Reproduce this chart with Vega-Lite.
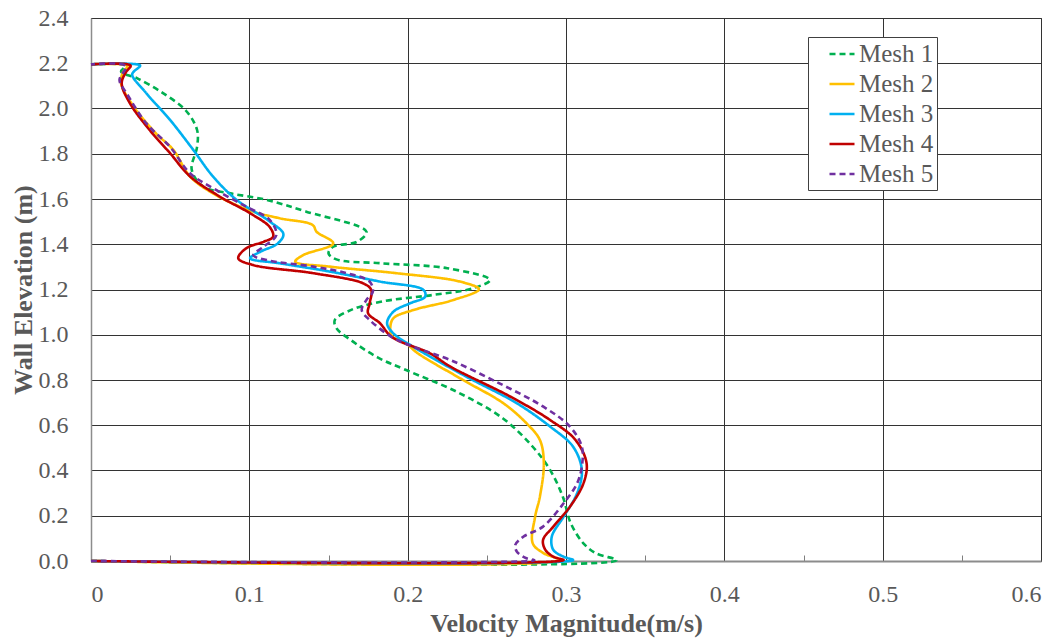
{
  "$schema": "https://vega.github.io/schema/vega-lite/v6.json",
  "width": 950,
  "height": 543,
  "autosize": {"type": "none"},
  "padding": {"left": 91, "top": 18, "right": 21, "bottom": 80},
  "background": "white",
  "config": {
    "view": {"stroke": "#404040", "strokeWidth": 1},
    "font": "Times New Roman, Liberation Serif, DejaVu Serif, serif"
  },
  "data": {"values": [
    {"m":"Mesh 1","v":0,"e":0},{"m":"Mesh 1","v":0.332,"e":0.003},{"m":"Mesh 1","v":0.319,"e":0.034},{"m":"Mesh 1","v":0.311,"e":0.078},{"m":"Mesh 1","v":0.303,"e":0.167},{"m":"Mesh 1","v":0.298,"e":0.284},{"m":"Mesh 1","v":0.290,"e":0.402},{"m":"Mesh 1","v":0.279,"e":0.505},{"m":"Mesh 1","v":0.260,"e":0.631},{"m":"Mesh 1","v":0.231,"e":0.748},{"m":"Mesh 1","v":0.199,"e":0.844},{"m":"Mesh 1","v":0.181,"e":0.90},{"m":"Mesh 1","v":0.164,"e":0.977},{"m":"Mesh 1","v":0.155,"e":1.029},{"m":"Mesh 1","v":0.154,"e":1.065},{"m":"Mesh 1","v":0.164,"e":1.109},{"m":"Mesh 1","v":0.183,"e":1.146},{"m":"Mesh 1","v":0.216,"e":1.176},{"m":"Mesh 1","v":0.241,"e":1.205},{"m":"Mesh 1","v":0.252,"e":1.242},{"m":"Mesh 1","v":0.225,"e":1.294},{"m":"Mesh 1","v":0.183,"e":1.316},{"m":"Mesh 1","v":0.155,"e":1.333},{"m":"Mesh 1","v":0.150,"e":1.36},{"m":"Mesh 1","v":0.153,"e":1.389},{"m":"Mesh 1","v":0.168,"e":1.411},{"m":"Mesh 1","v":0.174,"e":1.455},{"m":"Mesh 1","v":0.136,"e":1.544},{"m":"Mesh 1","v":0.111,"e":1.596},{"m":"Mesh 1","v":0.088,"e":1.625},{"m":"Mesh 1","v":0.071,"e":1.654},{"m":"Mesh 1","v":0.0636,"e":1.73},{"m":"Mesh 1","v":0.067,"e":1.83},{"m":"Mesh 1","v":0.067,"e":1.905},{"m":"Mesh 1","v":0.060,"e":1.99},{"m":"Mesh 1","v":0.045,"e":2.07},{"m":"Mesh 1","v":0.029,"e":2.134},{"m":"Mesh 1","v":0.019,"e":2.163},{"m":"Mesh 1","v":0.022,"e":2.19},{"m":"Mesh 1","v":0,"e":2.195},

    {"m":"Mesh 2","v":0,"e":0},{"m":"Mesh 2","v":0.296,"e":0.004},{"m":"Mesh 2","v":0.286,"e":0.034},{"m":"Mesh 2","v":0.279,"e":0.078},{"m":"Mesh 2","v":0.2805,"e":0.196},{"m":"Mesh 2","v":0.2835,"e":0.284},{"m":"Mesh 2","v":0.286,"e":0.432},{"m":"Mesh 2","v":0.2835,"e":0.535},{"m":"Mesh 2","v":0.275,"e":0.609},{"m":"Mesh 2","v":0.2605,"e":0.697},{"m":"Mesh 2","v":0.235,"e":0.80},{"m":"Mesh 2","v":0.206,"e":0.92},{"m":"Mesh 2","v":0.199,"e":0.962},{"m":"Mesh 2","v":0.19,"e":0.995},{"m":"Mesh 2","v":0.189,"e":1.029},{"m":"Mesh 2","v":0.191,"e":1.073},{"m":"Mesh 2","v":0.2035,"e":1.109},{"m":"Mesh 2","v":0.229,"e":1.154},{"m":"Mesh 2","v":0.245,"e":1.201},{"m":"Mesh 2","v":0.233,"e":1.235},{"m":"Mesh 2","v":0.193,"e":1.272},{"m":"Mesh 2","v":0.151,"e":1.301},{"m":"Mesh 2","v":0.129,"e":1.323},{"m":"Mesh 2","v":0.134,"e":1.352},{"m":"Mesh 2","v":0.153,"e":1.404},{"m":"Mesh 2","v":0.1425,"e":1.455},{"m":"Mesh 2","v":0.140,"e":1.485},{"m":"Mesh 2","v":0.119,"e":1.515},{"m":"Mesh 2","v":0.100,"e":1.55},{"m":"Mesh 2","v":0.077,"e":1.625},{"m":"Mesh 2","v":0.0625,"e":1.70},{"m":"Mesh 2","v":0.052,"e":1.817},{"m":"Mesh 2","v":0.041,"e":1.89},{"m":"Mesh 2","v":0.027,"e":2.008},{"m":"Mesh 2","v":0.019,"e":2.111},{"m":"Mesh 2","v":0.020,"e":2.157},{"m":"Mesh 2","v":0.023,"e":2.188},{"m":"Mesh 2","v":0,"e":2.195},

    {"m":"Mesh 3","v":0,"e":0},{"m":"Mesh 3","v":0.3045,"e":0.004},{"m":"Mesh 3","v":0.2985,"e":0.019},{"m":"Mesh 3","v":0.292,"e":0.049},{"m":"Mesh 3","v":0.291,"e":0.107},{"m":"Mesh 3","v":0.2985,"e":0.196},{"m":"Mesh 3","v":0.307,"e":0.299},{"m":"Mesh 3","v":0.31,"e":0.402},{"m":"Mesh 3","v":0.3045,"e":0.505},{"m":"Mesh 3","v":0.29,"e":0.594},{"m":"Mesh 3","v":0.269,"e":0.697},{"m":"Mesh 3","v":0.237,"e":0.815},{"m":"Mesh 3","v":0.2035,"e":0.947},{"m":"Mesh 3","v":0.191,"e":1.006},{"m":"Mesh 3","v":0.187,"e":1.051},{"m":"Mesh 3","v":0.191,"e":1.102},{"m":"Mesh 3","v":0.2015,"e":1.139},{"m":"Mesh 3","v":0.211,"e":1.168},{"m":"Mesh 3","v":0.21,"e":1.198},{"m":"Mesh 3","v":0.1825,"e":1.235},{"m":"Mesh 3","v":0.151,"e":1.279},{"m":"Mesh 3","v":0.119,"e":1.316},{"m":"Mesh 3","v":0.1005,"e":1.338},{"m":"Mesh 3","v":0.107,"e":1.367},{"m":"Mesh 3","v":0.118,"e":1.404},{"m":"Mesh 3","v":0.1215,"e":1.445},{"m":"Mesh 3","v":0.113,"e":1.50},{"m":"Mesh 3","v":0.092,"e":1.596},{"m":"Mesh 3","v":0.077,"e":1.70},{"m":"Mesh 3","v":0.0646,"e":1.817},{"m":"Mesh 3","v":0.050,"e":1.949},{"m":"Mesh 3","v":0.035,"e":2.067},{"m":"Mesh 3","v":0.026,"e":2.148},{"m":"Mesh 3","v":0.027,"e":2.163},{"m":"Mesh 3","v":0.031,"e":2.19},{"m":"Mesh 3","v":0,"e":2.195},

    {"m":"Mesh 4","v":0,"e":0},{"m":"Mesh 4","v":0.2985,"e":0.004},{"m":"Mesh 4","v":0.292,"e":0.019},{"m":"Mesh 4","v":0.287,"e":0.049},{"m":"Mesh 4","v":0.2855,"e":0.093},{"m":"Mesh 4","v":0.292,"e":0.152},{"m":"Mesh 4","v":0.3025,"e":0.24},{"m":"Mesh 4","v":0.311,"e":0.343},{"m":"Mesh 4","v":0.313,"e":0.432},{"m":"Mesh 4","v":0.306,"e":0.535},{"m":"Mesh 4","v":0.29,"e":0.623},{"m":"Mesh 4","v":0.265,"e":0.726},{"m":"Mesh 4","v":0.227,"e":0.859},{"m":"Mesh 4","v":0.214,"e":0.918},{"m":"Mesh 4","v":0.19,"e":0.99},{"m":"Mesh 4","v":0.1825,"e":1.051},{"m":"Mesh 4","v":0.175,"e":1.095},{"m":"Mesh 4","v":0.176,"e":1.139},{"m":"Mesh 4","v":0.177,"e":1.198},{"m":"Mesh 4","v":0.172,"e":1.227},{"m":"Mesh 4","v":0.1405,"e":1.272},{"m":"Mesh 4","v":0.1025,"e":1.308},{"m":"Mesh 4","v":0.093,"e":1.338},{"m":"Mesh 4","v":0.098,"e":1.382},{"m":"Mesh 4","v":0.109,"e":1.411},{"m":"Mesh 4","v":0.115,"e":1.433},{"m":"Mesh 4","v":0.113,"e":1.475},{"m":"Mesh 4","v":0.1005,"e":1.537},{"m":"Mesh 4","v":0.0815,"e":1.61},{"m":"Mesh 4","v":0.0625,"e":1.70},{"m":"Mesh 4","v":0.050,"e":1.802},{"m":"Mesh 4","v":0.037,"e":1.905},{"m":"Mesh 4","v":0.0246,"e":2.023},{"m":"Mesh 4","v":0.0194,"e":2.111},{"m":"Mesh 4","v":0.022,"e":2.16},{"m":"Mesh 4","v":0.025,"e":2.19},{"m":"Mesh 4","v":0,"e":2.195},

    {"m":"Mesh 5","v":0,"e":0},{"m":"Mesh 5","v":0.28,"e":0.003},{"m":"Mesh 5","v":0.275,"e":0.012},{"m":"Mesh 5","v":0.269,"e":0.041},{"m":"Mesh 5","v":0.268,"e":0.071},{"m":"Mesh 5","v":0.273,"e":0.107},{"m":"Mesh 5","v":0.2855,"e":0.152},{"m":"Mesh 5","v":0.2985,"e":0.255},{"m":"Mesh 5","v":0.307,"e":0.343},{"m":"Mesh 5","v":0.31,"e":0.417},{"m":"Mesh 5","v":0.31,"e":0.505},{"m":"Mesh 5","v":0.3025,"e":0.594},{"m":"Mesh 5","v":0.2857,"e":0.682},{"m":"Mesh 5","v":0.258,"e":0.785},{"m":"Mesh 5","v":0.227,"e":0.888},{"m":"Mesh 5","v":0.2035,"e":0.947},{"m":"Mesh 5","v":0.19,"e":0.99},{"m":"Mesh 5","v":0.176,"e":1.065},{"m":"Mesh 5","v":0.171,"e":1.109},{"m":"Mesh 5","v":0.174,"e":1.154},{"m":"Mesh 5","v":0.178,"e":1.19},{"m":"Mesh 5","v":0.176,"e":1.235},{"m":"Mesh 5","v":0.1615,"e":1.272},{"m":"Mesh 5","v":0.1405,"e":1.301},{"m":"Mesh 5","v":0.111,"e":1.33},{"m":"Mesh 5","v":0.1025,"e":1.352},{"m":"Mesh 5","v":0.109,"e":1.389},{"m":"Mesh 5","v":0.117,"e":1.44},{"m":"Mesh 5","v":0.113,"e":1.507},{"m":"Mesh 5","v":0.098,"e":1.566},{"m":"Mesh 5","v":0.079,"e":1.64},{"m":"Mesh 5","v":0.0625,"e":1.714},{"m":"Mesh 5","v":0.050,"e":1.83},{"m":"Mesh 5","v":0.035,"e":1.934},{"m":"Mesh 5","v":0.0225,"e":2.067},{"m":"Mesh 5","v":0.018,"e":2.126},{"m":"Mesh 5","v":0.022,"e":2.188},{"m":"Mesh 5","v":0,"e":2.195}
  ]},
  "mark": {"type": "line", "strokeWidth": 2.6, "clip": false, "interpolate": "catmull-rom"},
  "encoding": {
    "x": {
      "field": "v", "type": "quantitative",
      "scale": {"domain": [0, 0.6], "nice": false, "zero": false},
      "axis": {
        "title": "Velocity Magnitude(m/s)",
        "values": [0, 0.05, 0.1, 0.15, 0.2, 0.25, 0.3, 0.35, 0.4, 0.45, 0.5, 0.55, 0.6],
        "labelExpr": "round(datum.value*20)%2==0 ? format(datum.value, '.1~f') : ''",
        "grid": true,
        "gridColor": "#333333",
        "gridWidth": 1,
        "gridOpacity": {"condition": {"test": "round(datum.value*20)%2==1", "value": 0}, "value": 1},
        "ticks": true,
        "tickSize": -6,
        "tickColor": "#7f7f7f",
        "tickOpacity": {"condition": {"test": "round(datum.value*20)%2==1", "value": 1}, "value": 0},
        "domainColor": "#8c8c8c",
        "domainWidth": 2,
        "labelFont": "Times New Roman, Liberation Serif, DejaVu Serif, serif",
        "labelFontSize": 24,
        "labelColor": "#595959",
        "labelPadding": 27,
        "titleFont": "Times New Roman, Liberation Serif, DejaVu Serif, serif",
        "titleFontSize": 26,
        "titleFontWeight": "bold",
        "titleColor": "#595959",
        "titlePadding": 4
      }
    },
    "y": {
      "field": "e", "type": "quantitative",
      "scale": {"domain": [0, 2.4], "nice": false, "zero": false},
      "axis": {
        "title": "Wall Elevation (m)",
        "values": [0, 0.2, 0.4, 0.6, 0.8, 1.0, 1.2, 1.4, 1.6, 1.8, 2.0, 2.2, 2.4],
        "format": ".1f",
        "grid": true,
        "gridColor": "#333333",
        "gridWidth": 1,
        "ticks": false,
        "domainColor": "#8c8c8c",
        "domainWidth": 1.5,
        "labelFont": "Times New Roman, Liberation Serif, DejaVu Serif, serif",
        "labelFontSize": 24,
        "labelColor": "#595959",
        "labelPadding": 23,
        "titleFont": "Times New Roman, Liberation Serif, DejaVu Serif, serif",
        "titleFontSize": 26,
        "titleFontWeight": "bold",
        "titleColor": "#595959",
        "titlePadding": 2
      }
    },
    "order": {"field": "e", "type": "quantitative"},
    "color": {
      "field": "m", "type": "nominal",
      "scale": {"domain": ["Mesh 1", "Mesh 2", "Mesh 3", "Mesh 4", "Mesh 5"], "range": ["#00B050", "#FFC000", "#00B0F0", "#C00000", "#7030A0"]},
      "legend": {
        "title": null,
        "orient": "none",
        "legendX": 717,
        "legendY": 19,
        "padding": 3,
        "fillColor": "white",
        "strokeColor": "#404040",
        "symbolType": "stroke",
        "symbolStrokeWidth": 2.6,
        "symbolSize": 625,
        "symbolOffset": 17,
        "labelFont": "Times New Roman, Liberation Serif, DejaVu Serif, serif",
        "labelFontSize": 25,
        "labelColor": "#595959",
        "labelOffset": 3,
        "rowPadding": 3
      }
    },
    "strokeDash": {
      "field": "m", "type": "nominal",
      "scale": {"domain": ["Mesh 1", "Mesh 2", "Mesh 3", "Mesh 4", "Mesh 5"], "range": [[6, 4], [1, 0], [1, 0], [1, 0], [6, 4]]},
      "legend": null
    }
  }
}
